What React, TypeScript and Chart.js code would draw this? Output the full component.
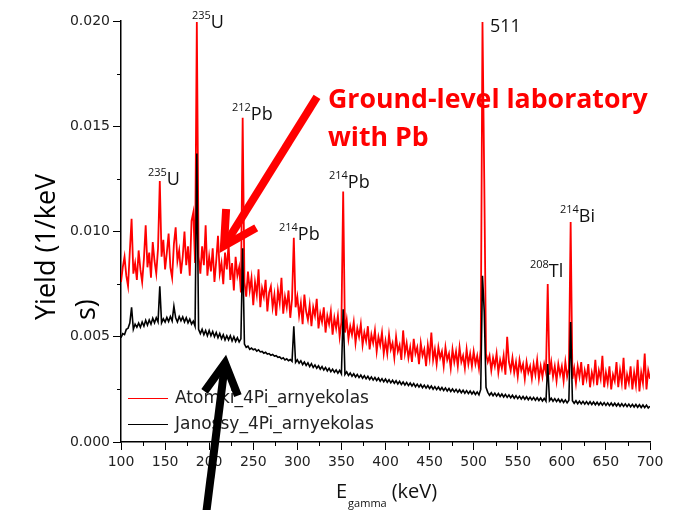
import React, { useEffect, useRef } from 'react';
import { Chart, registerables } from 'chart.js';

Chart.register(...registerables);

// ---- Data ----
// Yields are written in units of 1e-5 (1/keV s)
const YIELD_UNIT = 1e-5;

const energies: number[] = [
  100, 102, 104, 106, 108, 110, 112, 114, 116, 118,
  120, 122, 124, 126, 128, 130, 132, 134, 136, 138,
  140, 142, 144, 146, 148, 150, 152, 154, 156, 158,
  160, 162, 164, 166, 168, 170, 172, 174, 176, 178,
  180, 182, 184, 186, 188, 190, 192, 194, 196, 198,
  200, 202, 204, 206, 208, 210, 212, 214, 216, 218,
  220, 222, 224, 226, 228, 230, 232, 234, 236, 238,
  240, 242, 244, 246, 248, 250, 252, 254, 256, 258,
  260, 262, 264, 266, 268, 270, 272, 274, 276, 278,
  280, 282, 284, 286, 288, 290, 292, 294, 296, 298,
  300, 302, 304, 306, 308, 310, 312, 314, 316, 318,
  320, 322, 324, 326, 328, 330, 332, 334, 336, 338,
  340, 342, 344, 346, 348, 350, 352, 354, 356, 358,
  360, 362, 364, 366, 368, 370, 372, 374, 376, 378,
  380, 382, 384, 386, 388, 390, 392, 394, 396, 398,
  400, 402, 404, 406, 408, 410, 412, 414, 416, 418,
  420, 422, 424, 426, 428, 430, 432, 434, 436, 438,
  440, 442, 444, 446, 448, 450, 452, 454, 456, 458,
  460, 462, 464, 466, 468, 470, 472, 474, 476, 478,
  480, 482, 484, 486, 488, 490, 492, 494, 496, 498,
  500, 502, 504, 506, 508, 510, 512, 514, 516, 518,
  520, 522, 524, 526, 528, 530, 532, 534, 536, 538,
  540, 542, 544, 546, 548, 550, 552, 554, 556, 558,
  560, 562, 564, 566, 568, 570, 572, 574, 576, 578,
  580, 582, 584, 586, 588, 590, 592, 594, 596, 598,
  600, 602, 604, 606, 608, 610, 612, 614, 616, 618,
  620, 622, 624, 626, 628, 630, 632, 634, 636, 638,
  640, 642, 644, 646, 648, 650, 652, 654, 656, 658,
  660, 662, 664, 666, 668, 670, 672, 674, 676, 678,
  680, 682, 684, 686, 688, 690, 692, 694, 696, 698,
  700,
];

const atomkiYield: number[] = [
  760, 830, 880, 790, 740, 905, 1060, 800, 850, 770,
  910, 820, 760, 870, 1030, 830, 900, 780, 950, 860,
  800, 920, 1240, 880, 960, 820, 900, 990, 830, 780,
  940, 1020, 860, 910, 800, 880, 1000, 840, 930, 790,
  1050, 1090, 850, 1995, 880, 800, 930, 840, 1030, 790,
  880, 810, 920, 760, 860, 980, 800, 850, 750, 900,
  820, 940, 770, 850, 720, 880, 790, 830, 710, 1540,
  760, 690, 810, 720, 780, 650, 760, 700, 820, 640,
  730, 690, 770, 620, 710, 740, 640, 700, 600, 720,
  660, 780, 610, 690, 640, 720, 590, 680, 970, 640,
  690, 600, 660, 560, 700, 620, 580, 650, 550, 640,
  600, 680, 540, 610, 570, 640, 520, 600, 560, 620,
  510, 590, 540, 600, 500, 570, 1190, 520, 580, 490,
  550, 510, 570, 470, 540, 500, 560, 460, 520, 480,
  550, 440, 510, 470, 530, 430, 500, 460, 520, 420,
  480, 420, 510, 440, 470, 400, 500, 430, 460, 390,
  530, 420, 470, 400, 450, 380, 490, 420, 450, 370,
  470, 410, 440, 360, 460, 400, 520, 390, 440, 370,
  450, 400, 430, 360, 450, 390, 420, 350, 440, 380,
  430, 360, 450, 380, 410, 350, 440, 370, 420, 360,
  430, 370, 410, 350, 440, 1995, 1250, 420, 380, 410,
  340, 400, 360, 420, 330, 390, 350, 410, 320, 500,
  380, 340, 400, 330, 380, 310, 390, 340, 370, 300,
  380, 330, 360, 300, 370, 320, 390, 300, 360, 310,
  370, 330, 750, 320, 380, 310, 360, 290, 370, 320,
  360, 290, 380, 310, 350, 1045, 300, 350, 280, 360,
  310, 380, 270, 340, 300, 370, 260, 330, 290, 390,
  270, 340, 300, 410, 260, 330, 280, 360, 250, 320,
  290, 380, 260, 340, 280, 400, 250, 320, 280, 360,
  250, 330, 270, 390, 240, 330, 280, 420, 250, 340,
  300,
];

const janossyYield: number[] = [
  495, 515, 510, 535, 540, 565, 640, 535, 560, 545,
  565, 545, 570, 550, 578, 555, 580, 560, 588, 566,
  590, 570, 740, 566, 585, 570, 592, 572, 596, 575,
  645, 590, 570, 596, 576, 594, 570, 590, 566, 584,
  560, 574, 550, 1370, 535, 515, 535, 510, 530, 505,
  530, 505, 525, 500, 520, 495, 515, 490, 510, 485,
  505, 485, 505, 480, 500, 478, 495, 475, 490, 920,
  465, 450, 455, 440, 446, 438, 442, 432, 438, 428,
  430, 422, 426, 418, 420, 412, 416, 408, 410, 402,
  404, 395, 400, 390, 395, 386, 392, 383, 550, 378,
  390, 374, 386, 368, 380, 364, 376, 358, 372, 354,
  366, 350, 362, 346, 358, 342, 354, 338, 350, 334,
  346, 331, 342, 327, 340, 324, 630, 321, 333, 316,
  328, 312, 324, 309, 321, 306, 318, 303, 315, 300,
  312, 297, 309, 294, 306, 292, 304, 289, 301, 286,
  299, 284, 296, 281, 293, 279, 291, 276, 288, 273,
  285, 271, 283, 268, 280, 266, 278, 263, 275, 261,
  273, 258, 270, 256, 268, 254, 266, 251, 263, 249,
  261, 247, 259, 245, 257, 242, 254, 240, 252, 238,
  250, 236, 248, 234, 246, 232, 244, 230, 242, 228,
  240, 226, 238, 224, 250, 790, 620, 260, 236, 222,
  234, 220, 232, 218, 230, 216, 228, 214, 226, 212,
  224, 210, 222, 208, 220, 206, 218, 204, 216, 203,
  215, 201, 213, 200, 212, 198, 210, 197, 209, 195,
  207, 194, 370, 196, 208, 194, 206, 192, 204, 190,
  202, 188, 200, 186, 198, 570, 196, 184, 196, 182,
  194, 181, 193, 180, 192, 179, 191, 178, 190, 177,
  189, 176, 188, 175, 187, 174, 186, 173, 185, 172,
  184, 171, 183, 170, 182, 169, 181, 168, 180, 167,
  179, 166, 178, 165, 177, 164, 176, 163, 175, 162,
  170,
];

const seriesNames = ['Atomki_4Pi_arnyekolas', 'Janossy_4Pi_arnyekolas'];
const seriesColors = ['#ff0000', '#000000'];

const xMinorTicks = [125, 175, 225, 275, 325, 375, 425, 475, 525, 575, 625, 675];
const yMinorTicks = [0.0025, 0.0075, 0.0125, 0.0175];

// peak labels: anchor (left, baseline) in data units
const peakLabels = [
  { energy: 130.6, yieldPos: 0.01221, mass: '235', element: 'U' },
  { energy: 180.5, yieldPos: 0.01967, mass: '235', element: 'U' },
  { energy: 225.9, yieldPos: 0.0153, mass: '212', element: 'Pb' },
  { energy: 279.2, yieldPos: 0.0096, mass: '214', element: 'Pb' },
  { energy: 335.9, yieldPos: 0.01207, mass: '214', element: 'Pb' },
  { energy: 518.5, yieldPos: 0.01948, mass: '', element: '511' },
  { energy: 563.9, yieldPos: 0.00784, mass: '208', element: 'Tl' },
  { energy: 597.9, yieldPos: 0.01045, mass: '214', element: 'Bi' },
];

const annotationLines = ['Ground-level laboratory', 'with Pb'];

function drawArrow(ctx: CanvasRenderingContext2D, x0: number, y0: number, x1: number, y1: number,
  color: string, width: number, headLen: number, headAngle: number) {
  ctx.save();
  ctx.strokeStyle = color;
  ctx.lineWidth = width;
  ctx.lineCap = 'butt';
  ctx.lineJoin = 'miter';
  ctx.beginPath();
  ctx.moveTo(x0, y0);
  ctx.lineTo(x1, y1);
  ctx.stroke();
  const a = Math.atan2(y0 - y1, x0 - x1);
  ctx.beginPath();
  ctx.moveTo(x1 + headLen * Math.cos(a + headAngle), y1 + headLen * Math.sin(a + headAngle));
  ctx.lineTo(x1, y1);
  ctx.lineTo(x1 + headLen * Math.cos(a - headAngle), y1 + headLen * Math.sin(a - headAngle));
  ctx.stroke();
  ctx.restore();
}

const overlayPlugin = {
  id: 'overlay',
  afterDraw(chart: any) {
    const { ctx, chartArea, scales } = chart;
    const xs = scales.x;
    const ys = scales.y;
    ctx.save();

    // minor ticks
    ctx.strokeStyle = '#000';
    ctx.lineWidth = 1;
    ctx.beginPath();
    for (const v of xMinorTicks) {
      const px = Math.round(xs.getPixelForValue(v)) + 0.5;
      ctx.moveTo(px, chartArea.bottom);
      ctx.lineTo(px, chartArea.bottom + 4);
    }
    for (const v of yMinorTicks) {
      const py = Math.round(ys.getPixelForValue(v)) + 0.5;
      ctx.moveTo(chartArea.left - 4, py);
      ctx.lineTo(chartArea.left, py);
    }
    ctx.stroke();

    // peak labels
    ctx.fillStyle = '#111';
    ctx.textBaseline = 'alphabetic';
    ctx.textAlign = 'left';
    for (const p of peakLabels) {
      const px = xs.getPixelForValue(p.energy);
      const py = ys.getPixelForValue(p.yieldPos);
      let x = px;
      if (p.mass) {
        ctx.font = '11px "Open Sans"';
        ctx.fillText(p.mass, x, py - 9);
        x += ctx.measureText(p.mass).width;
      }
      ctx.font = '18px "Open Sans"';
      ctx.fillText(p.element, x, py);
    }

    // legend
    const lx = chartArea.left + 7;
    const legendY = [chartArea.bottom - 44, chartArea.bottom - 18];
    ctx.font = '17px "DejaVu Sans"';
    ctx.textBaseline = 'middle';
    seriesNames.forEach((name, i) => {
      ctx.strokeStyle = seriesColors[i];
      ctx.lineWidth = 1;
      ctx.beginPath();
      ctx.moveTo(lx, legendY[i] + 0.5);
      ctx.lineTo(lx + 40, legendY[i] + 0.5);
      ctx.stroke();
      ctx.fillStyle = '#222';
      ctx.fillText(name, lx + 47, legendY[i] + 1);
    });

    // y axis title (two lines, start aligned)
    ctx.save();
    ctx.translate(55, 320);
    ctx.rotate(-Math.PI / 2);
    ctx.fillStyle = '#000';
    ctx.textBaseline = 'alphabetic';
    ctx.textAlign = 'left';
    ctx.font = '27px "Open Sans"';
    ctx.fillText('Yield (1/keV', 0, 0);
    ctx.fillText('s)', 0, 40);
    ctx.restore();

    // x axis title
    ctx.fillStyle = '#111';
    ctx.textBaseline = 'alphabetic';
    ctx.textAlign = 'left';
    ctx.font = '20px "Open Sans"';
    let tx = 336;
    ctx.fillText('E', tx, 498);
    tx += ctx.measureText('E').width;
    ctx.font = '11px "Open Sans"';
    ctx.fillText('gamma', tx + 1, 507);
    tx += ctx.measureText('gamma').width + 6;
    ctx.font = '20px "Open Sans"';
    ctx.fillText('(keV)', tx, 498);

    // red annotation text
    ctx.fillStyle = '#ff0000';
    ctx.font = 'bold 100px "Open Sans"';
    const w = ctx.measureText(annotationLines[0]).width;
    const size = (100 * 320) / w;
    ctx.font = `bold ${size.toFixed(1)}px "Open Sans"`;
    ctx.fillText(annotationLines[0], 328, 108);
    ctx.fillText(annotationLines[1], 328, 146);

    // arrows (anchored in data units)
    drawArrow(ctx, xs.getPixelForValue(322.3), ys.getPixelForValue(0.01639),
      xs.getPixelForValue(216.8), ys.getPixelForValue(0.00931), '#ff0000', 8, 37, 0.5);
    drawArrow(ctx, xs.getPixelForValue(196.4), ys.getPixelForValue(-0.00347),
      xs.getPixelForValue(218.0), ys.getPixelForValue(0.00375), '#000000', 8, 35, 0.5);

    ctx.restore();
  },
};

export default function App() {
  const canvasRef = useRef<HTMLCanvasElement | null>(null);

  useEffect(() => {
    document.body.style.margin = '0';
    const canvas = canvasRef.current;
    if (!canvas) return;
    const n = Math.min(energies.length, atomkiYield.length, janossyYield.length);
    const redPts = [] as { x: number; y: number }[];
    const blackPts = [] as { x: number; y: number }[];
    for (let i = 0; i < n; i++) {
      redPts.push({ x: energies[i], y: atomkiYield[i] * YIELD_UNIT });
      blackPts.push({ x: energies[i], y: janossyYield[i] * YIELD_UNIT });
    }
    const chart = new Chart(canvas, {
      type: 'line',
      data: {
        datasets: [
          {
            label: seriesNames[0],
            data: redPts,
            borderColor: seriesColors[0],
            borderWidth: 1.8,
            pointRadius: 0,
            tension: 0,
            order: 1,
          },
          {
            label: seriesNames[1],
            data: blackPts,
            borderColor: seriesColors[1],
            borderWidth: 1.6,
            pointRadius: 0,
            tension: 0,
            order: 0,
          },
        ],
      },
      options: {
        responsive: false,
        animation: false,
        devicePixelRatio: 1,
        layout: { padding: { left: 0, top: 21, right: 30, bottom: 0 } },
        plugins: {
          legend: { display: false },
          tooltip: { enabled: false },
        },
        scales: {
          x: {
            type: 'linear',
            min: 100,
            max: 700,
            ticks: {
              stepSize: 50,
              color: '#222',
              font: { family: 'DejaVu Sans', size: 14 },
              padding: 4,
              maxRotation: 0,
              autoSkip: false,
              callback: (v: any) => String(v),
            },
            grid: { drawOnChartArea: false, drawTicks: true, tickLength: 8, color: '#000', lineWidth: 1 },
            border: { display: true, color: '#000', width: 1.5 },
            afterFit: (s: any) => { s.height = 68; },
          },
          y: {
            type: 'linear',
            min: 0,
            max: 0.02,
            ticks: {
              stepSize: 0.005,
              color: '#222',
              font: { family: 'DejaVu Sans', size: 14 },
              padding: 3,
              callback: (v: any) => Number(v).toFixed(3),
            },
            grid: { drawOnChartArea: false, drawTicks: true, tickLength: 8, color: '#000', lineWidth: 1 },
            border: { display: true, color: '#000', width: 1.5 },
            afterFit: (s: any) => { s.width = 121; },
          },
        },
      },
      plugins: [overlayPlugin],
    });
    return () => chart.destroy();
  }, []);

  return (
    <div style={{ position: 'absolute', left: 0, top: 0, width: 680, height: 510, background: '#fff' }}>
      <canvas ref={canvasRef} width={680} height={510} />
    </div>
  );
}
